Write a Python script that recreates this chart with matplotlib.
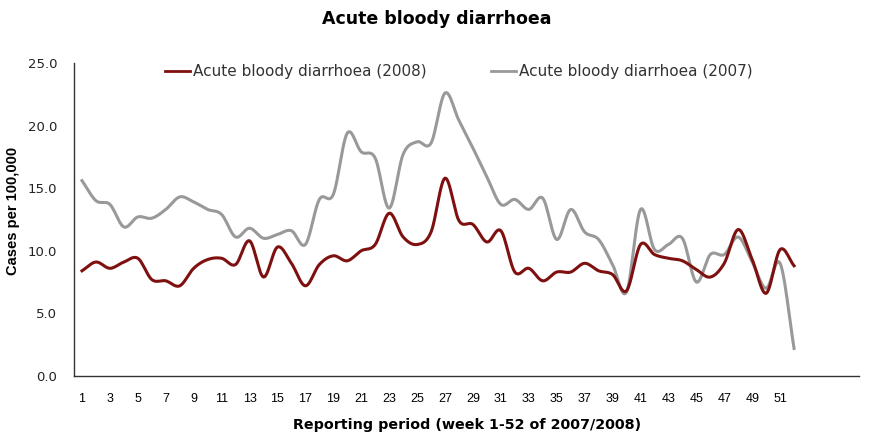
import numpy as np
import matplotlib
matplotlib.use("Agg")
import matplotlib.pyplot as plt
from matplotlib import font_manager

weeks = list(range(1, 53))
cases_2008 = [8.4, 9.1, 8.6, 9.1, 9.4, 7.7, 7.6, 7.2, 8.6, 9.3,
              9.4, 8.9, 10.8, 7.9, 10.3, 9.0, 7.2, 8.9, 9.6, 9.2,
              10.0, 10.5, 13.0, 11.1, 10.5, 11.5, 15.8, 12.4, 12.1, 10.7,
              11.6, 8.3, 8.6, 7.6, 8.3, 8.3, 9.0, 8.4, 8.1, 6.8,
              10.5, 9.7, 9.4, 9.2, 8.5, 7.9, 9.0, 11.7, 9.3, 6.6,
              10.1, 8.8]
cases_2007 = [15.6, 14.0, 13.7, 11.9, 12.7, 12.6, 13.3, 14.3, 13.9, 13.3,
              12.9, 11.1, 11.8, 11.0, 11.3, 11.6, 10.5, 14.1, 14.5, 19.4,
              17.9, 17.4, 13.4, 17.7, 18.7, 18.6, 22.6, 20.4, 18.2, 15.9,
              13.7, 14.1, 13.3, 14.2, 10.9, 13.3, 11.5, 10.9, 8.9, 6.7,
              13.3, 10.1, 10.5, 11.0, 7.5, 9.7, 9.7, 11.1, 9.1, 7.0,
              9.0, 2.2]
tick_weeks = list(range(1, 52, 2))
y_ticks = [0, 5, 10, 15, 20, 25]


def smooth(x, y, n=12):
    # catmull-rom curve through the points, like the excel smoothed line
    x = np.asarray(x, float)
    y = np.asarray(y, float)
    px = np.concatenate([[2 * x[0] - x[1]], x, [2 * x[-1] - x[-2]]])
    py = np.concatenate([[2 * y[0] - y[1]], y, [2 * y[-1] - y[-2]]])
    xs, ys = [], []
    t = np.linspace(0, 1, n, endpoint=False)
    for i in range(1, len(px) - 2):
        for p, out in ((px, xs), (py, ys)):
            p0, p1, p2, p3 = p[i - 1], p[i], p[i + 1], p[i + 2]
            out.extend(0.5 * (2 * p1 + (-p0 + p2) * t
                              + (2 * p0 - 5 * p1 + 4 * p2 - p3) * t ** 2
                              + (-p0 + 3 * p1 - 3 * p2 + p3) * t ** 3))
    xs.append(x[-1])
    ys.append(y[-1])
    return xs, ys


# narrow font if we have one
installed = {f.name for f in font_manager.fontManager.ttflist}
if "Liberation Sans Narrow" in installed:
    narrow, ylab_size, xt_size = "Liberation Sans Narrow", 12, 10
else:
    narrow, ylab_size, xt_size = "Liberation Sans", 10.5, 9

fig = plt.figure(figsize=(8.74, 4.37), dpi=100)
ax = fig.add_axes([0.0847, 0.1396, 0.8983, 0.7164])

x8, y8 = smooth(weeks, cases_2008)
x7, y7 = smooth(weeks, cases_2007)
ax.plot(x8, y8, color="#7f1010", lw=2.2, label="Acute bloody diarrhoea (2008)", zorder=3)
ax.plot(x7, y7, color="#999999", lw=2.2, label="Acute bloody diarrhoea (2007)", zorder=2)

ax.set_xlim(0.43, 56.66)
ax.set_ylim(0, 25)
ax.set_xticks(tick_weeks)
ax.set_xticklabels([str(w) for w in tick_weeks], fontsize=xt_size, family=narrow)
ax.set_yticks(y_ticks)
ax.set_yticklabels(["%.1f" % v for v in y_ticks], fontsize=9.5, family="DejaVu Sans",
                   color="#222222")
ax.tick_params(axis="both", length=0)
ax.tick_params(axis="x", pad=12)
ax.tick_params(axis="y", pad=12)
for s in ["top", "right"]:
    ax.spines[s].set_visible(False)
for s in ["left", "bottom"]:
    ax.spines[s].set_color("#333333")
    ax.spines[s].set_linewidth(1.0)

ax.set_xlabel("Reporting period (week 1-52 of 2007/2008)", fontsize=10.3,
              fontweight="bold", family="DejaVu Sans")
ax.xaxis.set_label_coords(0.5, -0.134)
ax.set_ylabel("Cases per 100,000", fontsize=ylab_size, fontweight="bold", family=narrow)
ax.yaxis.set_label_coords(-0.069, 0.527)
fig.text(0.5, 0.957, "Acute bloody diarrhoea", ha="center", va="center",
         fontsize=12.5, fontweight="bold", family="DejaVu Sans")

ax.legend(loc="upper center", bbox_to_anchor=(0.49, 1.04), ncol=2, frameon=False,
          prop={"family": "DejaVu Sans", "size": 11}, handlelength=1.65,
          handletextpad=0.2, columnspacing=4.2, labelcolor="#333333")
leg = ax.get_legend()
for h in leg.legend_handles:
    h.set_linewidth(2.0)

fig.savefig("out.png", dpi=100)
